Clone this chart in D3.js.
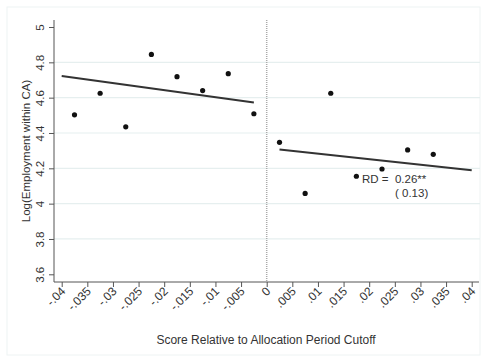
<!DOCTYPE html>
<html>
<head>
<meta charset="utf-8">
<script src="https://cdn.jsdelivr.net/npm/d3@7"></script>
<style>
  body { margin: 0; background: #fff; }
  svg text { font-family: "Liberation Sans", Arial, sans-serif; fill: #333; white-space: pre; }
</style>
</head>
<body>
<svg id="chart" width="485" height="357"></svg>
<script>
// binned means, left and right of cutoff
var leftX = [-0.0375, -0.0325, -0.0275, -0.0225, -0.0175, -0.0125, -0.0075, -0.0025]
var leftY = [4.503, 4.625, 4.435, 4.845, 4.719, 4.64, 4.736, 4.509]
var rightX = [0.0025, 0.0075, 0.0125, 0.0175, 0.0225, 0.0275, 0.0325]
var rightY = [4.347, 4.058, 4.625, 4.155, 4.196, 4.304, 4.279]

// fitted lines [x0, y0, x1, y1]
var leftFit = [-0.04, 4.723, -0.0025, 4.572]
var rightFit = [0.0025, 4.307, 0.04, 4.189]

var xTicks = [-0.04, -0.035, -0.03, -0.025, -0.02, -0.015, -0.01, -0.005, 0, 0.005, 0.01, 0.015, 0.02, 0.025, 0.03, 0.035, 0.04]
var xTickLabels = ['-.04', '-.035', '-.03', '-.025', '-.02', '-.015', '-.01', '-.005', '0', '.005', '.01', '.015', '.02', '.025', '.03', '.035', '.04']
var yTicks = [3.6, 3.8, 4, 4.2, 4.4, 4.6, 4.8, 5]
var gridTicks = [3.8, 4, 4.2, 4.4, 4.6, 4.8]

var svg = d3.select('#chart')

let x = d3.scaleLinear().domain([-0.04, 0.04]).range([61.7, 471.7])
let y = d3.scaleLinear().domain([3.6, 5]).range([274.3, 27])

let axisLeftX = 54
let axisBottomY = 282

// faint outer frame
svg.append('rect')
    .attr('x', 7).attr('y', 7)
    .attr('width', 473).attr('height', 348)
    .style('fill', 'none')
    .style('stroke', '#eef3f3')
    .style('stroke-width', 1)

// gridlines
svg.append('g').selectAll('line')
    .data(gridTicks)
    .join('line')
    .attr('x1', axisLeftX).attr('x2', 480)
    .attr('y1', d => y(d)).attr('y2', d => y(d))
    .style('stroke', '#e6efef')
    .style('stroke-width', 1.2)

// cutoff line
svg.append('line')
    .attr('x1', x(0)).attr('x2', x(0))
    .attr('y1', 20).attr('y2', axisBottomY)
    .style('stroke', '#aaa')
    .style('stroke-width', 1.5)
    .style('stroke-dasharray', '1,1')

// y axis
let yAxis = d3.axisLeft(y).tickValues(yTicks).tickSize(5).tickFormat(d3.format('~g'))
let gy = svg.append('g').attr('transform', `translate(${axisLeftX},0)`).call(yAxis)
gy.select('.domain').remove()
gy.append('line')
    .attr('x1', 0).attr('x2', 0)
    .attr('y1', 20).attr('y2', axisBottomY)
    .style('stroke', '#555')
gy.selectAll('.tick line').style('stroke', '#555')
gy.selectAll('.tick text')
    .attr('x', 0).attr('y', 0)
    .attr('transform', 'translate(-10,0) rotate(-90)')
    .style('text-anchor', 'middle')
    .style('font-size', '11.5px')
    .attr('dy', '0')

// x axis
let xAxis = d3.axisBottom(x).tickValues(xTicks).tickSize(5).tickFormat((d, i) => xTickLabels[i])
let gx = svg.append('g').attr('transform', `translate(0,${axisBottomY})`).call(xAxis)
gx.select('.domain').remove()
gx.append('line')
    .attr('x1', axisLeftX).attr('x2', 479)
    .attr('y1', 0).attr('y2', 0)
    .style('stroke', '#555')
gx.selectAll('.tick line').style('stroke', '#555')
gx.selectAll('.tick text')
    .attr('x', 0).attr('y', 0).attr('dy', '0')
    .attr('transform', 'translate(4,10) rotate(-45)')
    .style('text-anchor', 'end')
    .style('font-size', '12px')

// axis titles
svg.append('text')
    .attr('transform', 'translate(30,151) rotate(-90)')
    .style('text-anchor', 'middle')
    .style('font-size', '11.5px')
    .text('Log(Employment within CA)')

svg.append('text')
    .attr('x', 266).attr('y', 344)
    .style('text-anchor', 'middle')
    .style('font-size', '12px')
    .text('Score Relative to Allocation Period Cutoff')

// fit lines
svg.append('g').selectAll('line')
    .data([leftFit, rightFit])
    .join('line')
    .attr('x1', d => x(d[0])).attr('y1', d => y(d[1]))
    .attr('x2', d => x(d[2])).attr('y2', d => y(d[3]))
    .style('stroke', '#333')
    .style('stroke-width', 2)

// points
let pts = leftX.map((d, i) => [d, leftY[i]]).concat(rightX.map((d, i) => [d, rightY[i]]))
svg.append('g').selectAll('circle')
    .data(pts)
    .join('circle')
    .attr('cx', d => x(d[0]))
    .attr('cy', d => y(d[1]))
    .attr('r', 2.6)
    .style('fill', '#111')

// RD annotation
svg.append('text')
    .attr('x', 362).attr('y', 183)
    .style('font-size', '11.5px')
    .text('RD =  0.26**')
svg.append('text')
    .attr('x', 395).attr('y', 197)
    .style('font-size', '11.5px')
    .text('( 0.13)')
</script>
</body>
</html>
